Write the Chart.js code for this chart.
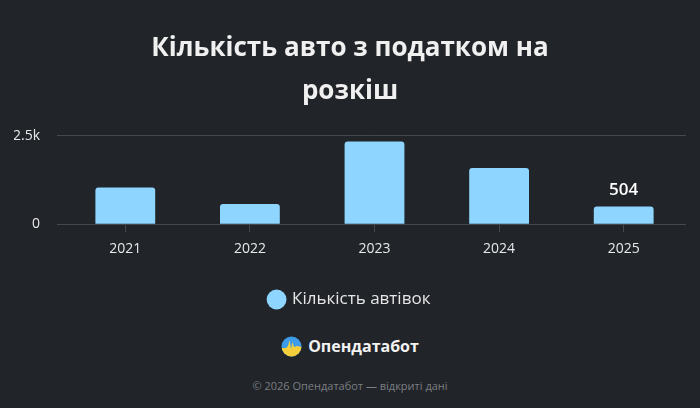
<!DOCTYPE html>
<html>
<head>
<meta charset="utf-8">
<script src="https://cdn.jsdelivr.net/npm/chart.js@4"></script>
<style>
  html, body { margin: 0; padding: 0; background: #212428; }
  body { width: 700px; height: 408px; overflow: hidden; font-family: "Open Sans", sans-serif; }
  #wrap { position: relative; width: 700px; height: 318px; }
  .brand { position: absolute; top: 335px; left: 0; width: 700px; text-align: center; }
  .brand span { display: inline-flex; align-items: center; gap: 6px; color: #f2f2f2; font-weight: 700; font-size: 16px; }
  .foot { position: absolute; top: 378px; left: 0; width: 700px; text-align: center; color: #7b7e83; font-size: 11px; }
</style>
</head>
<body>
<div id="wrap"><canvas id="grafico"></canvas></div>
<div class="brand"><span>
  <svg width="21" height="21" viewBox="0 0 21 21">
    <defs><clipPath id="c"><circle cx="10.5" cy="10.5" r="10"/></clipPath></defs>
    <g clip-path="url(#c)">
      <rect x="0" y="0" width="21" height="21" fill="#3d9be9"/>
      <path d="M0 12 L5 12 L7 10 L8.5 4 L10 13 L11.5 6 L13 11 L16 10 L21 11 L21 21 L0 21 Z" fill="#f5cf3a"/>
    </g>
  </svg>Опендатабот</span></div>
<div class="foot">© 2026 Опендатабот — відкриті дані</div>
<script>
const titulo = ['Кількість авто з податком на', 'розкіш'];
const anos = ['2021', '2022', '2023', '2024', '2025'];
const autos = [1035, 572, 2338, 1590, 504];
const serieNome = 'Кількість автівок';
const mostrarValor = ['2025']; // only this bar gets a value label

// simple value label above bars
const rotulos = {
    id: 'rotulos',
    afterDatasetsDraw(chart) {
        const ctx = chart.ctx;
        const meta = chart.getDatasetMeta(0);
        ctx.save();
        ctx.fillStyle = '#ffffff';
        ctx.font = '600 17px "Open Sans"';
        ctx.textAlign = 'center';
        ctx.textBaseline = 'alphabetic';
        meta.data.forEach((bar, i) => {
            if (!mostrarValor.includes(anos[i])) return;
            ctx.fillText(String(autos[i]), bar.x, bar.y - 11);
        });
        ctx.restore();
    }
};

const ctx = document.getElementById('grafico').getContext('2d');
new Chart(ctx, {
    type: 'bar',
    data: {
        labels: anos,
        datasets: [{
            label: serieNome,
            data: autos,
            backgroundColor: '#8ed6ff',
            borderRadius: 3,
            barPercentage: 0.8,
            categoryPercentage: 0.6
        }]
    },
    options: {
        responsive: true,
        maintainAspectRatio: false,
        animation: false,
        layout: { padding: { left: 14, right: 14, top: 0, bottom: 0 } },
        plugins: {
            title: {
                display: true,
                text: titulo,
                color: '#f0f0f0',
                font: { family: 'Open Sans', size: 26, weight: '700', lineHeight: 1.65 },
                padding: { top: 27, bottom: 23 }
            },
            legend: {
                position: 'bottom',
                labels: {
                    usePointStyle: true,
                    pointStyle: 'circle',
                    boxWidth: 14,
                    boxHeight: 14,
                    color: '#e6e6e6',
                    font: { family: 'Open Sans', size: 17 },
                    padding: 26
                }
            },
            tooltip: { enabled: false }
        },
        scales: {
            x: {
                grid: { display: true, drawOnChartArea: false, offset: false, color: '#45484d', tickLength: 8 },
                border: { display: false },
                ticks: { color: '#e8e8e8', font: { family: 'Open Sans', size: 14 }, padding: 8 }
            },
            y: {
                min: 0,
                max: 2500,
                afterFit: s => { s.width = 49; },
                grid: { color: '#45484d', tickLength: 6 },
                border: { display: false },
                ticks: {
                    stepSize: 2500,
                    color: '#e8e8e8',
                    font: { family: 'Open Sans', size: 14 },
                    padding: 17,
                    callback: v => v >= 1000 ? (v / 1000) + 'k' : v
                }
            }
        }
    },
    plugins: [rotulos]
});
</script>
</body>
</html>
